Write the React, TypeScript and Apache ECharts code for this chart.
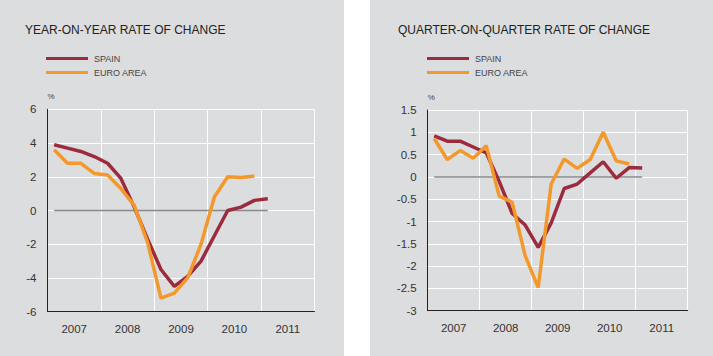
import React, { useEffect, useRef } from "react";
import * as echarts from "echarts";

const years = ["2007", "2008", "2009", "2010", "2011"];
// quarterly values, 2007Q1 .. 2011Q1
const spainYoY = [3.9, 3.7, 3.5, 3.2, 2.8, 1.9, 0.2, -1.7, -3.5, -4.5, -3.9, -3.0, -1.5, 0.0, 0.2, 0.6, 0.7];
const euroYoY = [3.6, 2.8, 2.8, 2.2, 2.1, 1.3, 0.3, -1.9, -5.2, -4.9, -4.0, -2.0, 0.8, 2.0, 1.95, 2.05];
const spainQoQ = [0.92, 0.8, 0.8, 0.67, 0.54, -0.1, -0.82, -1.08, -1.58, -1.03, -0.26, -0.16, 0.09, 0.34, -0.03, 0.21, 0.2];
const euroQoQ = [0.86, 0.39, 0.59, 0.42, 0.7, -0.43, -0.57, -1.77, -2.48, -0.16, 0.4, 0.19, 0.39, 1.0, 0.36, 0.29];
const zeroSpan = [0, 16];

const SPAIN_COLOR = "#9c2b3d";
const EURO_COLOR = "#f3992b";
const FONT = "'Liberation Sans', Arial, Helvetica, sans-serif";

const toPts = (arr: number[]) => arr.map((v, i) => [i + 0.5, v]);

export default function App() {
  const ref = useRef<HTMLDivElement>(null);
  useEffect(() => {
    document.body.style.margin = "0";
    if (!ref.current) return;
    const chart = echarts.init(ref.current, undefined, { renderer: "svg" });

    const catAxis = (gridIndex: number) => ({
      type: "category" as const,
      gridIndex,
      data: years,
      boundaryGap: true,
      axisLine: { show: true, onZero: false, lineStyle: { color: "#222", width: 1 } },
      axisTick: { show: false },
      axisLabel: { color: "#333", fontSize: 11.5, fontFamily: FONT, margin: 11 },
      splitLine: { show: true, lineStyle: { color: "#ffffff", width: 1 } },
    });
    const valXAxis = (gridIndex: number) => ({
      type: "value" as const,
      gridIndex,
      min: 0,
      max: 20,
      show: false,
      axisLine: { show: false, onZero: false },
      splitLine: { show: false },
    });
    const yAxis = (gridIndex: number, min: number, max: number, interval: number) => ({
      type: "value" as const,
      gridIndex,
      min,
      max,
      interval,
      name: "%",
      nameLocation: "end" as const,
      nameGap: 9,
      nameTextStyle: { color: "#444", fontSize: 8, fontFamily: FONT, align: "left" as const },
      axisLine: { show: true, onZero: false, lineStyle: { color: "#222", width: 1 } },
      axisTick: { show: false },
      axisLabel: { color: "#333", fontSize: 11.5, fontFamily: FONT, margin: 11 },
      splitLine: { show: true, lineStyle: { color: "#ffffff", width: 1 } },
    });

    const lineSeries = (name: string, data: number[], xAxisIndex: number, yAxisIndex: number, color: string) => ({
      type: "line" as const,
      name,
      xAxisIndex,
      yAxisIndex,
      data: toPts(data),
      showSymbol: false,
      symbol: "none",
      lineStyle: { color, width: 3.5 },
      itemStyle: { color },
      z: 3,
    });
    const zeroSeries = (xAxisIndex: number, yAxisIndex: number) => ({
      type: "line" as const,
      name: "zero",
      xAxisIndex,
      yAxisIndex,
      data: zeroSpan.map((q) => [q + 0.5, 0]),
      symbol: "none",
      lineStyle: { color: "#8a8a8a", width: 1.5 },
      z: 2,
    });

    const legend = (left: number) => ({
      left,
      top: 53,
      orient: "vertical" as const,
      padding: 0,
      itemGap: 3,
      itemWidth: 42,
      itemHeight: 3,
      icon: "rect",
      data: ["SPAIN", "EURO AREA"],
      selectedMode: false,
      textStyle: { color: "#444", fontSize: 9, fontFamily: FONT, lineHeight: 11, padding: [0, 0, 0, 1] },
    });

    chart.setOption({
      animation: false,
      backgroundColor: "#ffffff",
      graphic: [
        { type: "rect", z: -10, shape: { x: 0, y: 0, width: 344, height: 356 }, style: { fill: "#dcdddf" } },
        { type: "rect", z: -10, shape: { x: 370, y: 0, width: 343, height: 356 }, style: { fill: "#dcdddf" } },
      ],
      title: [
        {
          text: "YEAR-ON-YEAR RATE OF CHANGE",
          left: 25,
          top: 23,
          padding: 0,
          textStyle: { color: "#222", fontSize: 12, fontWeight: "normal", fontFamily: FONT, lineHeight: 14 },
        },
        {
          text: "QUARTER-ON-QUARTER RATE OF CHANGE",
          left: 398,
          top: 23,
          padding: 0,
          textStyle: { color: "#222", fontSize: 12, fontWeight: "normal", fontFamily: FONT, lineHeight: 14 },
        },
      ],
      legend: [legend(46), legend(427)],
      grid: [
        { left: 47.5, top: 109.3, width: 267, height: 202.4 },
        { left: 427.7, top: 110, width: 260, height: 200.7 },
      ],
      xAxis: [catAxis(0), valXAxis(0), catAxis(1), valXAxis(1)],
      yAxis: [yAxis(0, -6, 6, 2), yAxis(1, -3, 1.5, 0.5)],
      series: [
        zeroSeries(1, 0),
        lineSeries("SPAIN", spainYoY, 1, 0, SPAIN_COLOR),
        lineSeries("EURO AREA", euroYoY, 1, 0, EURO_COLOR),
        zeroSeries(3, 1),
        lineSeries("SPAIN", spainQoQ, 3, 1, SPAIN_COLOR),
        lineSeries("EURO AREA", euroQoQ, 3, 1, EURO_COLOR),
      ],
    });
    return () => chart.dispose();
  }, []);
  return <div ref={ref} style={{ width: 713, height: 356 }} />;
}
